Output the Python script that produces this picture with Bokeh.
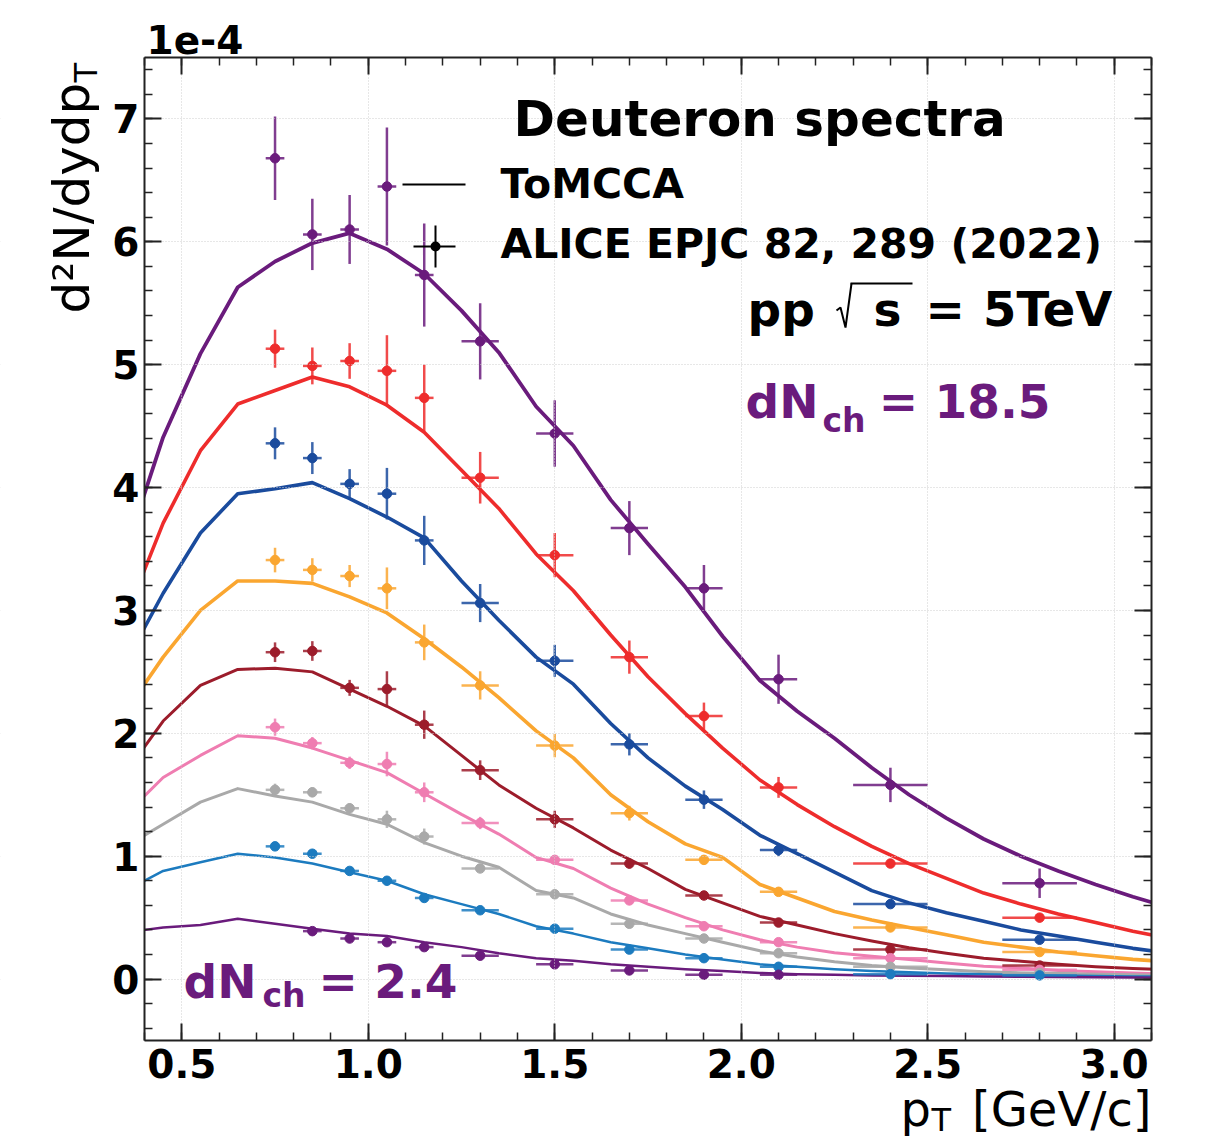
import numpy as np
from bokeh.plotting import figure
from bokeh.models import (Range1d, LinearAxis, FixedTicker, PrintfTickFormatter,
                          Label, BoxAnnotation, PolyAnnotation)
from bokeh.embed import file_html
from bokeh.resources import INLINE

# ---------------- data (values in units of 1e-4) ----------------
pt_model = [0.35, 0.45, 0.55, 0.65, 0.75, 0.85, 0.95, 1.05, 1.15, 1.25, 1.35, 1.45,
            1.55, 1.65, 1.75, 1.85, 1.95, 2.05, 2.15, 2.25, 2.35, 2.45, 2.55, 2.65,
            2.75, 2.85, 2.95, 3.05, 3.15]

model_purple = [3.49, 4.41, 5.09, 5.63, 5.84, 5.99, 6.07, 5.94, 5.74, 5.44, 5.10, 4.66,
                4.34, 3.90, 3.54, 3.19, 2.79, 2.43, 2.18, 1.96, 1.72, 1.50, 1.31, 1.14,
                1.00, 0.88, 0.77, 0.67, 0.58]
model_red = [2.95, 3.71, 4.30, 4.68, 4.79, 4.90, 4.82, 4.67, 4.45, 4.14, 3.83, 3.46,
             3.16, 2.80, 2.46, 2.16, 1.88, 1.62, 1.42, 1.24, 1.08, 0.94, 0.82, 0.70,
             0.61, 0.53, 0.46, 0.39, 0.33]
model_blue = [2.58, 3.14, 3.63, 3.95, 3.99, 4.04, 3.91, 3.76, 3.59, 3.24, 2.92, 2.62,
              2.40, 2.08, 1.80, 1.57, 1.38, 1.17, 1.02, 0.87, 0.72, 0.62, 0.54, 0.47,
              0.40, 0.35, 0.30, 0.25, 0.21]
model_orange = [2.18, 2.62, 3.00, 3.24, 3.24, 3.22, 3.11, 2.98, 2.77, 2.54, 2.29, 2.02,
                1.80, 1.50, 1.28, 1.10, 0.99, 0.77, 0.66, 0.55, 0.48, 0.42, 0.36, 0.30,
                0.26, 0.22, 0.19, 0.16, 0.14]
model_darkred = [1.68, 2.10, 2.39, 2.52, 2.53, 2.50, 2.36, 2.22, 2.06, 1.82, 1.58, 1.39,
                 1.23, 1.05, 0.90, 0.73, 0.62, 0.51, 0.44, 0.37, 0.31, 0.255, 0.21, 0.17,
                 0.145, 0.12, 0.10, 0.085, 0.075]
model_pink = [1.34, 1.64, 1.82, 1.98, 1.96, 1.88, 1.78, 1.68, 1.51, 1.34, 1.18, 0.99,
              0.90, 0.74, 0.61, 0.50, 0.40, 0.32, 0.26, 0.215, 0.185, 0.16, 0.13, 0.105,
              0.09, 0.07, 0.06, 0.05, 0.04]
model_gray = [1.08, 1.26, 1.44, 1.55, 1.49, 1.44, 1.34, 1.26, 1.11, 1.00, 0.91, 0.72,
              0.66, 0.53, 0.44, 0.37, 0.30, 0.23, 0.18, 0.14, 0.11, 0.09, 0.075, 0.06,
              0.05, 0.045, 0.04, 0.035, 0.03]
model_lightblue = [0.72, 0.88, 0.95, 1.02, 0.99, 0.94, 0.87, 0.80, 0.69, 0.61, 0.53, 0.43,
                   0.37, 0.30, 0.25, 0.20, 0.16, 0.12, 0.10, 0.08, 0.065, 0.055, 0.045, 0.04,
                   0.035, 0.03, 0.025, 0.02, 0.02]
model_purple_low = [0.38, 0.42, 0.44, 0.49, 0.45, 0.41, 0.37, 0.35, 0.30, 0.26, 0.21, 0.17,
                    0.15, 0.12, 0.10, 0.08, 0.065, 0.05, 0.04, 0.035, 0.03, 0.027, 0.024, 0.021,
                    0.018, 0.016, 0.014, 0.012, 0.01]

pt_data = [0.75, 0.85, 0.95, 1.05, 1.15, 1.3, 1.5, 1.7, 1.9, 2.1, 2.4, 2.8]
pt_err = [0.025, 0.025, 0.025, 0.025, 0.025, 0.05, 0.05, 0.05, 0.05, 0.05, 0.1, 0.1]
nan = float("nan")

data_purple = [6.68, 6.06, 6.10, 6.45, 5.73, 5.19, 4.44, 3.67, 3.18, 2.44, 1.58, 0.78]
err_purple = [0.34, 0.29, 0.28, 0.48, 0.42, 0.31, 0.27, 0.22, 0.19, 0.20, 0.14, 0.12]
data_red = [5.13, 4.99, 5.03, 4.95, 4.73, 4.08, 3.45, 2.62, 2.14, 1.56, 0.94, 0.50]
err_red = [0.155, 0.15, 0.145, 0.29, 0.27, 0.21, 0.18, 0.135, 0.11, 0.085, 0.03, 0.02]
data_blue = [4.36, 4.24, 4.03, 3.95, 3.57, 3.06, 2.59, 1.91, 1.46, 1.05, 0.61, 0.32]
err_blue = [0.13, 0.13, 0.12, 0.21, 0.20, 0.155, 0.13, 0.09, 0.075, 0.05, 0.02, 0.02]
data_orange = [3.41, 3.33, 3.28, 3.18, 2.74, 2.39, 1.90, 1.35, 0.97, 0.71, 0.42, 0.22]
err_orange = [0.10, 0.095, 0.09, 0.17, 0.145, 0.115, 0.095, 0.06, 0.04, 0.03, 0.02, 0.015]
data_darkred = [2.66, 2.67, 2.37, 2.36, 2.07, 1.70, 1.30, 0.94, 0.68, 0.46, 0.24, 0.11]
err_darkred = [0.08, 0.08, 0.065, 0.145, 0.115, 0.08, 0.07, 0.04, 0.03, 0.02, 0.015, 0.01]
data_pink = [2.05, 1.92, 1.76, 1.75, 1.52, 1.27, 0.97, 0.64, 0.43, 0.30, 0.17, 0.075]
err_pink = [0.07, 0.05, 0.05, 0.10, 0.08, 0.05, 0.04, 0.03, 0.02, 0.02, 0.01, 0.01]
data_gray = [1.54, 1.52, 1.39, 1.30, 1.16, 0.90, 0.69, 0.45, 0.33, 0.21, 0.10, 0.05]
err_gray = [0.05, 0.04, 0.04, 0.07, 0.065, 0.03, 0.03, 0.02, 0.015, 0.01, 0.01, 0.01]
data_lightblue = [1.08, 1.02, 0.88, 0.80, 0.66, 0.56, 0.41, 0.24, 0.17, 0.10, 0.04, 0.03]
err_lightblue = [0.03, 0.025, 0.025, 0.03, 0.03, 0.02, 0.02, 0.015, 0.01, 0.01, 0.005, 0.005]
data_purple_low = [nan, 0.39, 0.33, 0.30, 0.26, 0.19, 0.12, 0.07, 0.035, 0.035, nan, nan]
err_purple_low = [0.0, 0.02, 0.02, 0.02, 0.02, 0.015, 0.01, 0.01, 0.005, 0.005, 0.0, 0.0]

x_ticks = [0.5, 1.0, 1.5, 2.0, 2.5, 3.0]
y_ticks = [0, 1, 2, 3, 4, 5, 6, 7]
X_MIN, X_MAX = 0.4, 3.1
Y_MIN, Y_MAX = -0.5, 7.5

# ---------------- style ----------------
PURPLE = "#6a1b7c"
series = [
    (model_purple, data_purple, err_purple, PURPLE, 3.8),
    (model_red, data_red, err_red, "#ee2c2c", 3.6),
    (model_blue, data_blue, err_blue, "#1a4b9d", 3.6),
    (model_orange, data_orange, err_orange, "#faa630", 3.6),
    (model_darkred, data_darkred, err_darkred, "#9c1c2b", 3.0),
    (model_pink, data_pink, err_pink, "#ef7db1", 3.0),
    (model_gray, data_gray, err_gray, "#a9a9a9", 3.0),
    (model_lightblue, data_lightblue, err_lightblue, "#1c7bbf", 2.5),
    (model_purple_low, data_purple_low, err_purple_low, PURPLE, 2.5),
]

FONT = "DejaVu Sans"
W, H = 1207, 1140
# axes box position on the page (pixels)
LEFT, RIGHT, TOP, BOTTOM = 144, 1151, 57, 1040
PPX = (RIGHT - LEFT) / (X_MAX - X_MIN)
PPY = (BOTTOM - TOP) / (Y_MAX - Y_MIN)
BASE_SHIFT = 0.345  # label baseline correction (fraction of font size)

# the frame covers the whole canvas; the axes box is drawn with fixed-location axes
p = figure(width=W, height=H, output_backend="svg", toolbar_location=None,
           x_range=Range1d(X_MIN - LEFT / PPX, X_MAX + (W - RIGHT) / PPX),
           y_range=Range1d(Y_MIN - (H - BOTTOM) / PPY, Y_MAX + TOP / PPY),
           min_border=0, min_border_left=0, min_border_right=0,
           min_border_top=0, min_border_bottom=0)
p.background_fill_color = "white"
p.border_fill_color = "white"
p.outline_line_color = None

xt = FixedTicker(ticks=x_ticks, minor_ticks=list(np.round(np.arange(0.4, 3.15, 0.1), 2)))
yt = FixedTicker(ticks=y_ticks, minor_ticks=list(np.round(np.arange(-0.4, 7.5, 0.2), 2)))

def style_axis(ax, ticker, loc, bounds, show_labels):
    ax.ticker = ticker
    ax.fixed_location = loc
    ax.bounds = bounds
    ax.axis_line_color = "#222222"
    ax.axis_line_width = 2
    ax.major_tick_in = 17
    ax.major_tick_out = 0
    ax.minor_tick_in = 8
    ax.minor_tick_out = 0
    ax.major_tick_line_width = 2
    ax.minor_tick_line_width = 1.5
    ax.major_tick_line_color = "#222222"
    ax.minor_tick_line_color = "#222222"
    ax.major_label_text_font = FONT
    ax.major_label_text_font_style = "bold"
    ax.major_label_text_font_size = "39px"
    ax.major_label_text_color = "black"
    if not show_labels:
        ax.major_label_text_font_size = "0px"
        ax.major_label_text_alpha = 0

style_axis(p.xaxis[0], xt, Y_MIN, (X_MIN, X_MAX), True)
style_axis(p.yaxis[0], yt, X_MIN, (Y_MIN, Y_MAX), True)
p.xaxis[0].formatter = PrintfTickFormatter(format="%.1f")
p.yaxis[0].formatter = PrintfTickFormatter(format="%d")
p.xaxis[0].major_label_standoff = 8
p.yaxis[0].major_label_standoff = 5

top_ax = LinearAxis()
right_ax = LinearAxis()
style_axis(top_ax, xt, Y_MAX, (X_MIN, X_MAX), False)
style_axis(right_ax, yt, X_MAX, (Y_MIN, Y_MAX), False)
p.add_layout(top_ax, "above")
p.add_layout(right_ax, "right")

p.xgrid.ticker = xt
p.ygrid.ticker = yt
for g in (p.xgrid[0], p.ygrid[0]):
    g.grid_line_color = "#cfcfcf"
    g.grid_line_dash = "1 2"
    g.grid_line_width = 1

# ---------------- model lines ----------------
for model, _, _, col, lw in series:
    p.line(pt_model, model, line_color=col, line_width=lw, line_join="round", level="underlay")

# ---------------- data with error bars ----------------
x = np.array(pt_data)
xe = np.array(pt_err)
for _, dat, err, col, _ in series:
    y = np.array(dat)
    ye = np.array(err)
    p.segment(x0=x - xe, y0=y, x1=x + xe, y1=y, line_color=col, line_width=2.5,
              line_alpha=0.85, level="underlay")
    p.segment(x0=x, y0=y - ye, x1=x, y1=y + ye, line_color=col, line_width=2.5,
              line_alpha=0.85, level="underlay")
    p.scatter(x, y, size=9.5, marker="circle", fill_color=col, line_color=col, level="underlay")

# ---------------- helpers in page pixels ----------------
def sx(X):
    return X

def sy(Y):
    return H - Y

def box(x0, x1, y0, y1, color="black", radius=0, level="annotation"):
    p.add_layout(BoxAnnotation(left=sx(x0), right=sx(x1), top=sy(y0), bottom=sy(y1),
                               left_units="screen", right_units="screen",
                               top_units="screen", bottom_units="screen",
                               fill_color=color, fill_alpha=1, line_color=None,
                               border_radius=radius, level=level))

# white masks outside the axes box (above glyphs, below axes)
box(0, LEFT, 0, H, color="white", level="glyph")
box(RIGHT, W, 0, H, color="white", level="glyph")
box(0, W, 0, TOP, color="white", level="glyph")
box(0, W, BOTTOM, H, color="white", level="glyph")

def label(text, X, Y, size, bold=True, color="black", align="left", angle=0.0):
    # (X, Y): text start / alphabetic baseline in page pixels
    if angle == 0.0:
        Y = Y - BASE_SHIFT * size
    else:
        X = X - BASE_SHIFT * size
    p.add_layout(Label(x=sx(X), y=sy(Y), x_units="screen", y_units="screen", text=text,
                       text_font=FONT, text_font_size=f"{size}px",
                       text_font_style="bold" if bold else "normal",
                       text_color=color, text_align=align, text_baseline="alphabetic",
                       angle=angle))

label("1e-4", 146, 52, 39)
# y axis title (rotated)
label("d²N/dydp", 89, 313, 50, bold=False, angle=np.pi / 2)
label("T", 97, 82, 32, bold=False, angle=np.pi / 2)
# x axis title
label("p", 900, 1125, 48, bold=False)
label("T", 931, 1131, 32, bold=False)
label("[GeV/c]", 1151, 1125, 48, bold=False, align="right")

label("Deuteron spectra", 513, 136, 50)
label("ToMCCA", 500, 198, 41)
label("ALICE EPJC 82, 289 (2022)", 500, 258, 41)

label("pp", 747, 325, 47)
label("s", 873, 325, 47)
label("=", 925, 325, 47)
label("5TeV", 1112, 325, 48, align="right")

label("dN", 745, 417, 47, color=PURPLE)
label("ch", 822, 431, 33, color=PURPLE)
label("= 18.5", 1050, 417, 47, color=PURPLE, align="right")

label("dN", 183, 997, 47, color=PURPLE)
label("ch", 262, 1006, 33, color=PURPLE)
label("= 2.4", 457, 997, 47, color=PURPLE, align="right")

# radical sign for sqrt(s)
rad_x = [836, 840, 845, 851, 845, 840]
rad_y = [310, 307, 327, 283, 327, 307]
p.add_layout(PolyAnnotation(xs=[sx(v) for v in rad_x], ys=[sy(v) for v in rad_y],
                            xs_units="screen", ys_units="screen",
                            fill_alpha=0, line_color="black", line_alpha=1, line_width=2))
box(850, 912, 282, 284)

# legend symbols
box(402, 465, 183, 185)            # ToMCCA line sample
box(413, 455, 245, 247)            # ALICE horizontal error
box(434, 436, 225, 267)            # ALICE vertical error
box(430, 440, 241, 251, radius=5)  # ALICE marker

open("out.html", "w").write(file_html(p, INLINE))
